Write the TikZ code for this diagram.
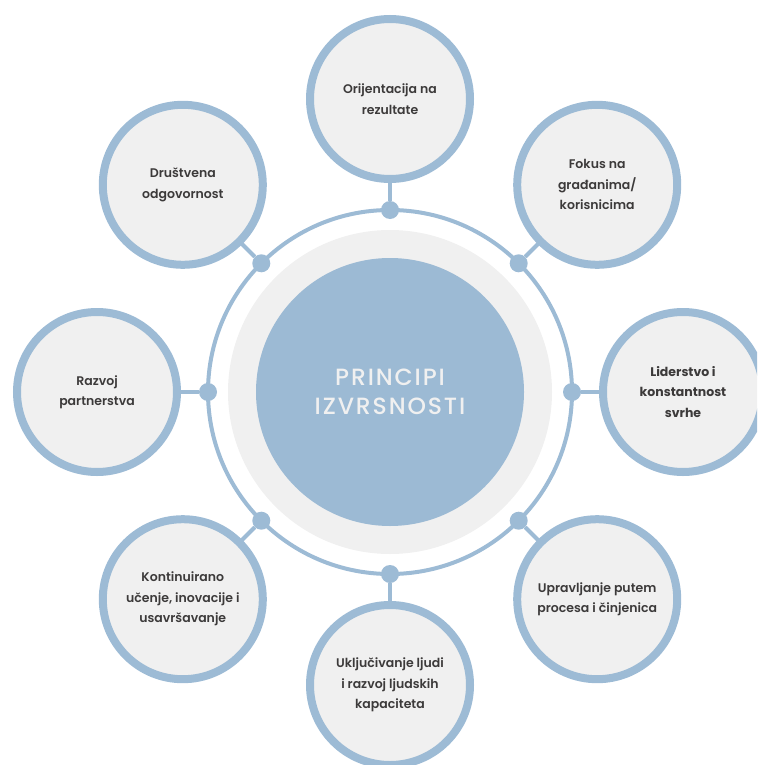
\documentclass[tikz,border=0pt]{standalone}
\usepackage{fontspec}
\setmainfont{Poppins}
\newfontfamily\satfont{Poppins SemiBold}
\newfontfamily\satbold{Poppins Bold}
\newfontfamily\centerfont[LetterSpace=8]{Poppins Medium}
\definecolor{ringblue}{HTML}{9DBBD5}
\definecolor{coreblue}{HTML}{9CBAD4}
\definecolor{softgrey}{HTML}{F0F0F0}
\definecolor{txtgrey}{HTML}{3C3A3A}
\tikzset{
  sat/.style={circle, draw=ringblue, line width=8pt, fill=softgrey, minimum size=160pt, inner sep=0pt,
    align=center, text=txtgrey, font=\satfont\fontsize{12.5}{20.5}\selectfont},
  satb/.style={sat, font=\satbold\fontsize{12.5}{20.5}\selectfont},
  joint/.style={circle, fill=ringblue, minimum size=18pt, inner sep=0pt},
  link/.style={draw=ringblue, line width=4pt}
}
\begin{document}
\begin{tikzpicture}[x=1pt,y=-1pt]
\useasboundingbox (0,0) rectangle (757,765);
\clip (0,0) rectangle (757,765);
\coordinate (C) at (390,392);
\node[circle, draw=ringblue, line width=4pt, minimum size=364pt, inner sep=0pt] (ring) at (C) {};
\node[circle, fill=softgrey, minimum size=324pt, inner sep=0pt] (halo) at (C) {};
\node[circle, fill=coreblue, minimum size=268pt, inner sep=0pt, align=center, text=softgrey,
  font=\centerfont\fontsize{23.5}{29}\selectfont] (core) at (C) {PRINCIPI\\IZVRSNOSTI};
% joints
\node[joint] (j1) at (390,210) {};
\node[joint] (j2) at (518.7,263.3) {};
\node[joint] (j3) at (572,392) {};
\node[joint] (j4) at (518.7,520.7) {};
\node[joint] (j5) at (390,574) {};
\node[joint] (j6) at (261.3,520.7) {};
\node[joint] (j7) at (208,392) {};
\node[joint] (j8) at (261.3,263.3) {};
% satellite positions
\coordinate (p1) at (390,99);
\coordinate (p2) at (597.2,184.8);
\coordinate (p3) at (683,392);
\coordinate (p4) at (597.2,599.2);
\coordinate (p5) at (390,685);
\coordinate (p6) at (182.8,599.2);
\coordinate (p7) at (97,392);
\coordinate (p8) at (182.8,184.8);
\foreach \i in {1,...,8} {\draw[link] (p\i) -- (j\i);}
\node[sat] (s1) at (p1) {Orijentacija na\\rezultate};
\node[sat] (s2) at (p2) {Fokus na\\građanima/\\korisnicima};
\node[satb] (s3) at (p3) {Liderstvo i\\konstantnost\\svrhe};
\node[sat] (s4) at (p4) {Upravljanje putem\\procesa i činjenica};
\node[sat] (s5) at (p5) {Uključivanje ljudi\\i razvoj ljudskih\\kapaciteta};
\node[sat] (s6) at (p6) {Kontinuirano\\učenje, inovacije i\\usavršavanje};
\node[sat] (s7) at (p7) {Razvoj\\partnerstva};
\node[sat] (s8) at (p8) {Društvena\\odgovornost};
\end{tikzpicture}
\end{document}
